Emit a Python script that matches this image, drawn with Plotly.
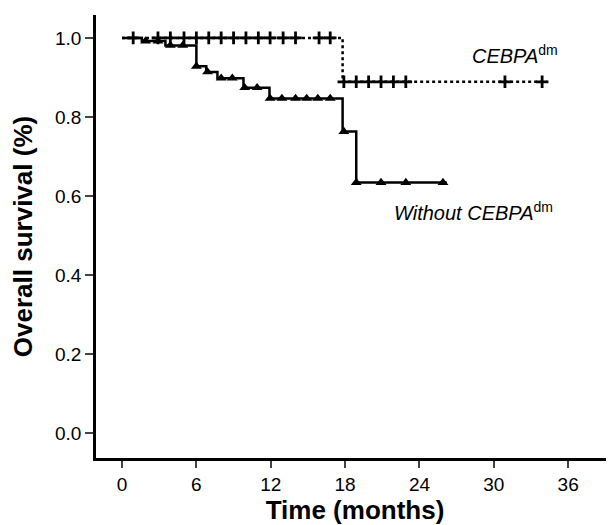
import numpy as np
import plotly.graph_objects as go

# ---- data ----
cebpa_step_t = [0, 17.8, 34.3]
cebpa_step_s = [1.0, 0.889, 0.889]
cebpa_cens_t = [0.9, 2.9, 3.9, 5.0, 6.0, 7.0, 8.0, 9.0, 10.0, 11.0, 11.95, 13.0, 14.0,
                15.9, 16.8, 17.9, 18.9, 19.9, 20.9, 21.9, 22.9, 30.9, 33.9]

wo_step_t = [0, 1.6, 3.5, 6.0, 6.8, 7.7, 9.8, 11.9, 17.8, 18.9, 26.2]
wo_step_s = [1.0, 0.992, 0.981, 0.928, 0.914, 0.898, 0.874, 0.847, 0.763, 0.634, 0.634]
wo_cens_t = [1.9, 2.9, 3.9, 4.9, 6.0, 6.9, 8.0, 8.9, 9.9, 10.9, 11.95, 12.9, 14.0, 14.9,
             15.8, 16.8, 17.9, 18.9, 20.9, 22.9, 25.9]

x_ticks = [0, 6, 12, 18, 24, 30, 36]
y_ticks = [0.0, 0.2, 0.4, 0.6, 0.8, 1.0]
y_tick_labels = ["0.0", "0.2", "0.4", "0.6", "0.8", "1.0"]


def step_value(times, surv, t):
    idx = np.searchsorted(np.array(times), np.array(t), side="right") - 1
    return list(np.array(surv)[idx])


FONT = "Arial, Liberation Sans, sans-serif"

fig = go.Figure()

# Without CEBPAdm (solid)
fig.add_trace(go.Scatter(x=wo_step_t, y=wo_step_s, mode="lines",
                         line=dict(color="black", width=2.5, shape="hv"),
                         showlegend=False, hoverinfo="skip"))
fig.add_trace(go.Scatter(x=wo_cens_t, y=step_value(wo_step_t, wo_step_s, wo_cens_t),
                         mode="markers",
                         marker=dict(symbol="triangle-up", size=9.5, color="black",
                                     line=dict(width=0)),
                         showlegend=False))

# CEBPAdm (dotted)
fig.add_trace(go.Scatter(x=cebpa_step_t, y=cebpa_step_s, mode="lines",
                         line=dict(color="black", width=2.5, shape="hv", dash="3px,3px"),
                         showlegend=False, hoverinfo="skip"))
fig.add_trace(go.Scatter(x=cebpa_cens_t, y=step_value(cebpa_step_t, cebpa_step_s, cebpa_cens_t),
                         mode="markers",
                         marker=dict(symbol="cross-thin", size=9, color="black",
                                     line=dict(width=2.8, color="black")),
                         showlegend=False))

fig.add_annotation(x=28.1, y=0.958, xref="x", yref="y", xanchor="left", yanchor="middle",
                   text="<i>CEBPA</i><sup>dm</sup>", showarrow=False,
                   font=dict(family=FONT, size=20, color="black"))
fig.add_annotation(x=21.8, y=0.56, xref="x", yref="y", xanchor="left", yanchor="middle",
                   text="<i>Without CEBPA</i><sup>dm</sup>", showarrow=False,
                   font=dict(family=FONT, size=20, color="black"))

# page body has an 8px margin, so the figure is sized/offset to compensate
fig.update_layout(
    width=606, height=517,
    margin=dict(l=88, r=0, t=7, b=67),
    plot_bgcolor="white", paper_bgcolor="white",
    font=dict(family=FONT, color="black"),
    xaxis=dict(range=[-2.1, 39.7], tickvals=x_ticks, ticktext=[str(v) for v in x_ticks],
               showgrid=False, zeroline=False, showline=True, linecolor="black", linewidth=2.5,
               ticks="outside", ticklen=7, tickwidth=1.5, tickcolor="#444",
               tickfont=dict(family=FONT, size=19, color="black"),
               title=dict(text="<b>Time (months)</b>", font=dict(family=FONT, size=26, color="black"),
                          standoff=7)),
    yaxis=dict(range=[-0.063, 1.058], tickvals=y_ticks, ticktext=y_tick_labels,
               showgrid=False, zeroline=False, showline=True, linecolor="black", linewidth=2.5,
               ticks="outside", ticklen=8, tickwidth=1.5, tickcolor="#444",
               tickfont=dict(family=FONT, size=19, color="black"),
               title=dict(text="<b>Overall survival (%)</b>", font=dict(family=FONT, size=26, color="black"),
                          standoff=17)),
)

fig.write_html("out.html")
